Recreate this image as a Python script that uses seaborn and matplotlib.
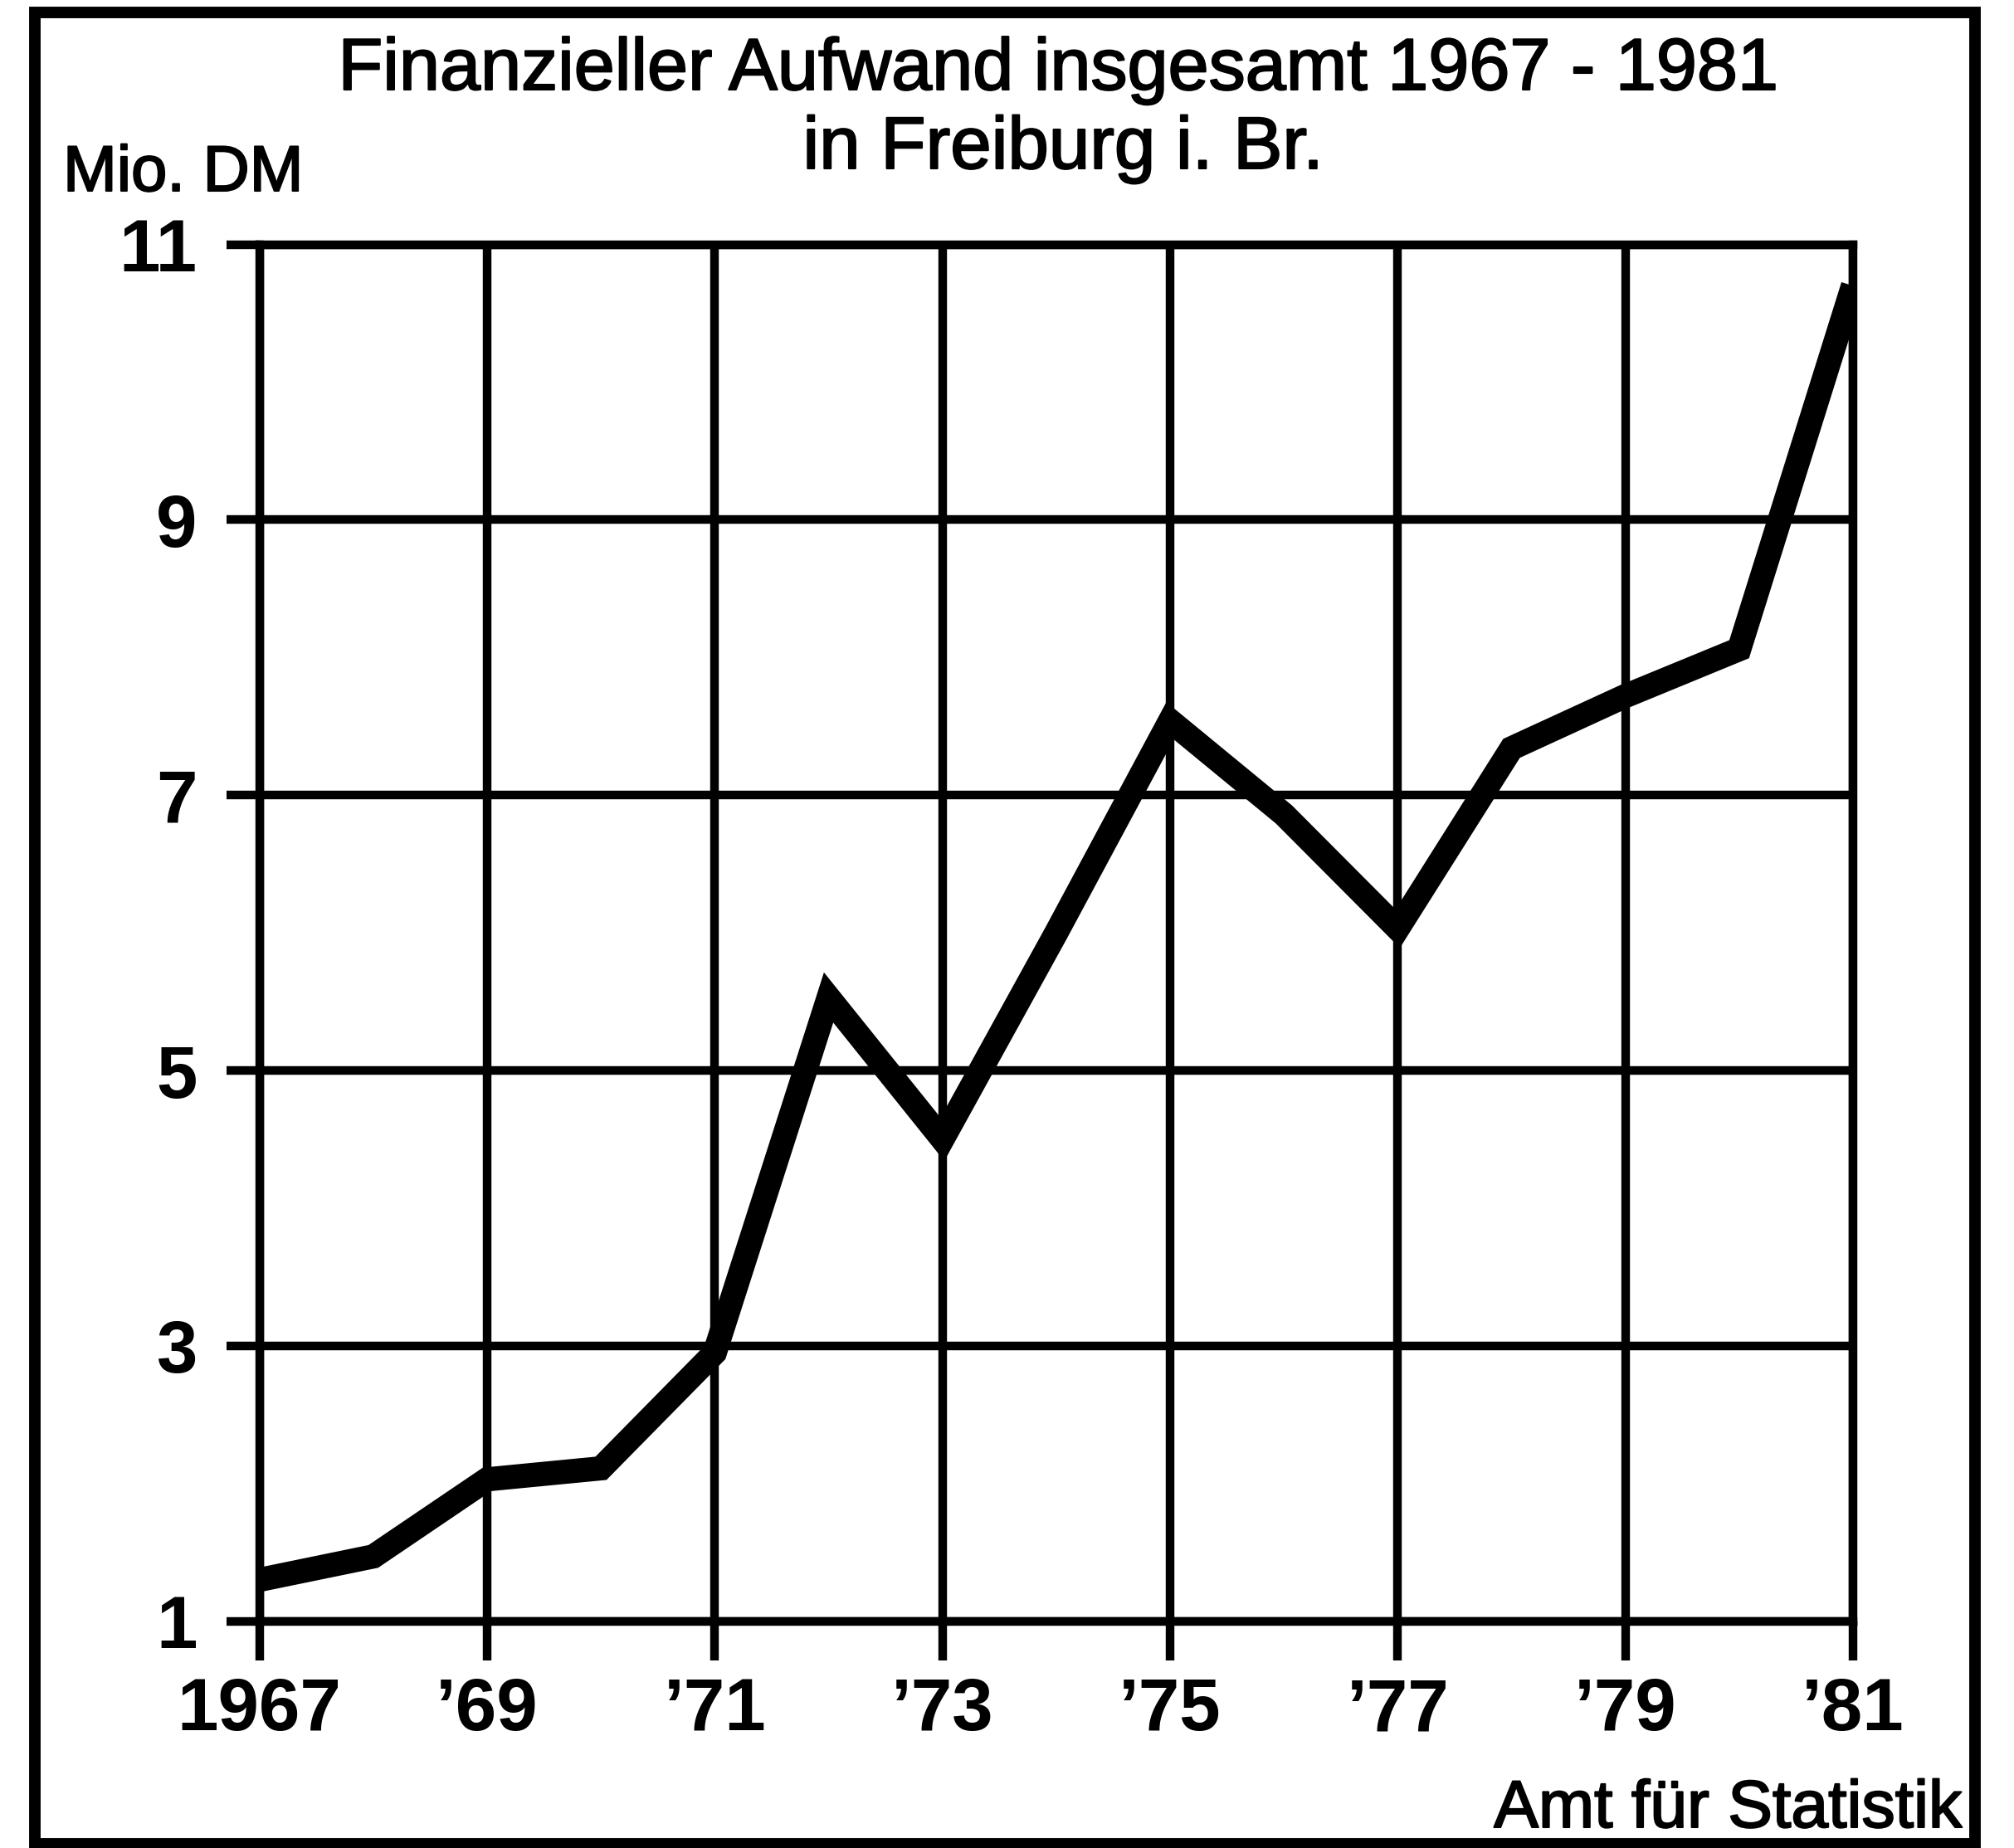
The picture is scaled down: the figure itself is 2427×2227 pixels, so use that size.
import matplotlib
matplotlib.use("Agg")
import matplotlib.pyplot as plt
import matplotlib.patheffects as pe
import seaborn as sns
import pandas as pd
from matplotlib.patches import Rectangle

# ---- data ----
years = [1967, 1968, 1969, 1970, 1971, 1972, 1973, 1974,
         1975, 1976, 1977, 1978, 1979, 1980, 1981]
values = [1.30, 1.47, 2.03, 2.11, 2.95, 5.53, 4.50, 6.00,
          7.54, 6.86, 6.03, 7.34, 7.72, 8.06, 10.70]

x_ticks = [1967, 1969, 1971, 1973, 1975, 1977, 1979, 1981]
x_tick_labels = ["1967", "\u201969", "\u201971", "\u201973",
                 "\u201975", "\u201977", "\u201979", "\u201981"]
y_ticks = [1, 3, 5, 7, 9, 11]
y_tick_labels = ["1", "3", "5", "7", "9", "11"]

title_line1 = "Finanzieller Aufwand insgesamt 1967 - 1981"
title_line2 = "in Freiburg i. Br."
unit_label = "Mio. DM"
source_label = "Amt f\u00fcr Statistik"

# ---- style ----
sns.set_style("white")
plt.rcParams["font.family"] = ["Liberation Sans", "DejaVu Sans"]

W, H = 2427, 2227
fig = plt.figure(figsize=(W / 100, H / 100), dpi=100)
fig.patch.set_facecolor("white")

ax_left, ax_right = 312.7, 2233.0
ax_top, ax_bottom = 294.6, 1953.6
ax = fig.add_axes([ax_left / W, (H - ax_bottom) / H,
                   (ax_right - ax_left) / W, (ax_bottom - ax_top) / H])

df = pd.DataFrame({"Jahr": years, "Aufwand": values})
sns.lineplot(data=df, x="Jahr", y="Aufwand", ax=ax, color="black",
             linewidth=21, solid_joinstyle="miter", solid_capstyle="butt",
             zorder=5)

ax.set_xlim(1967, 1981)
ax.set_ylim(1, 11)
ax.set_xticks(x_ticks)
ax.set_xticklabels(x_tick_labels)
ax.set_yticks(y_ticks)
ax.set_yticklabels(y_tick_labels)
ax.set_xlabel("")
ax.set_ylabel("")

grid_lw = 7.5
ax.grid(True, color="black", linewidth=grid_lw)
for s in ax.spines.values():
    s.set_visible(True)
    s.set_color("black")
    s.set_linewidth(grid_lw)

ax.tick_params(axis="y", which="major", left=True, length=29, width=grid_lw,
               pad=25, labelsize=64, direction="out", color="black")
ax.tick_params(axis="x", which="major", bottom=True, length=34, width=grid_lw,
               pad=14, labelsize=64, direction="out", color="black")
for lbl in ax.get_xticklabels() + ax.get_yticklabels():
    lbl.set_fontweight("bold")
    lbl.set_color("black")

# ---- texts ----
medium = [pe.withStroke(linewidth=1.5, foreground="black")]
fig.text(1276 / W, (H - 108) / H, title_line1, ha="center", va="baseline",
         fontsize=63.5, color="black", path_effects=medium)
fig.text(1281 / W, (H - 203) / H, title_line2, ha="center", va="baseline",
         fontsize=64, color="black", path_effects=medium)
fig.text(76 / W, (H - 230) / H, unit_label, ha="left", va="baseline",
         fontsize=56, color="black", path_effects=medium)
fig.text(2364 / W, (H - 2202) / H, source_label, ha="right", va="baseline",
         fontsize=58, color="black", path_effects=medium)

# ---- outer frame ----
frame = Rectangle((42 / W, (H - 2222) / H), (2380 - 42) / W, (2222 - 15) / H,
                  transform=fig.transFigure, fill=False, edgecolor="black",
                  linewidth=10, zorder=10)
fig.patches.append(frame)

fig.savefig("out.png", dpi=100, facecolor="white")
